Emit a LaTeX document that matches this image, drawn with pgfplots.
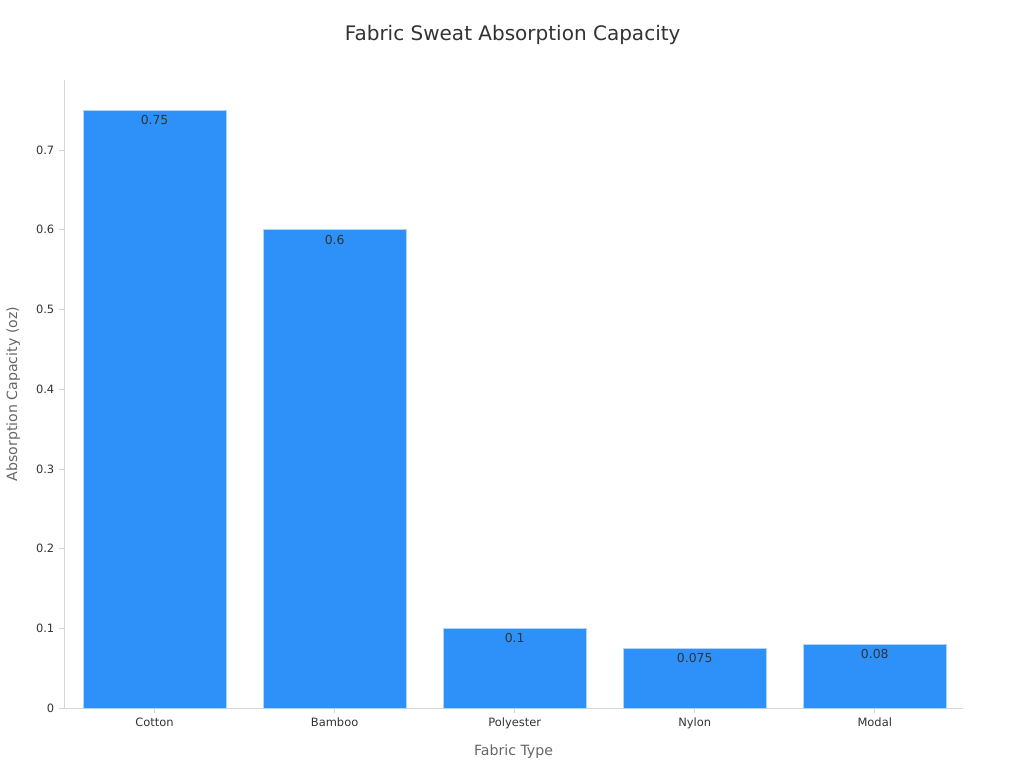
\documentclass[border=0pt]{standalone}
\usepackage{fontspec}
\setmainfont{DejaVu Sans}
\usepackage{pgfplots}
\usepackage{pgfplotstable}
\pgfplotsset{compat=1.18}
\definecolor{barblue}{RGB}{46,145,250}
\definecolor{baredge}{RGB}{175,212,252}
\definecolor{spine}{RGB}{214,214,214}
\definecolor{titlegray}{RGB}{51,51,51}
\definecolor{labelgray}{RGB}{102,102,102}

\pgfplotstableread{
x label  y     val
0 Cotton    0.75  0.75
1 Bamboo    0.6   0.6
2 Polyester 0.1   0.1
3 Nylon     0.075 0.075
4 Modal     0.08  0.08
}\fabric

\begin{document}
\begin{tikzpicture}
\path[use as bounding box] (0pt,0pt) rectangle (768pt,576pt);
\begin{axis}[
  at={(48pt,45pt)}, anchor=south west,
  scale only axis,
  width=674.25pt, height=471pt,
  ymin=0, ymax=0.788,
  xmin=-0.503, xmax=4.49,
  axis x line*=bottom, axis y line*=left,
  axis line style={spine, line width=0.6pt, -},
  ytick={0,0.1,...,0.7},
  yticklabels={0,0.1,0.2,0.3,0.4,0.5,0.6,0.7},
  xtick=data,
  xticklabels from table={\fabric}{label},
  tick style={spine, line width=0.6pt},
  tick align=outside,
  major tick length=3.75pt,
  /pgf/number format/assume math mode=true,
  ticklabel style={font=\fontsize{8.6}{10}\selectfont, text=titlegray},
  xticklabel style={text height=6.5pt, text depth=1.8pt, yshift=-0.3pt},
  xlabel={Fabric Type},
  ylabel={Absorption Capacity (oz)},
  label style={font=\fontsize{10.6}{12}\selectfont, text=labelgray},
  xlabel style={at={(axis description cs:0.5,0)}, anchor=center, yshift=-32.5pt},
  ylabel style={at={(axis description cs:0,0.5)}, anchor=center, yshift=38pt},
  ybar, bar width=107.25pt, bar shift=0pt,
  nodes near coords,
  point meta=explicit symbolic,
  nodes near coords align={below},
  every node near coord/.append style={font=\fontsize{9.3}{11}\selectfont, text=titlegray, inner sep=3.6pt},
  clip=false,
]
\addplot[fill=barblue, draw=baredge, line width=0.6pt]
  table[x=x, y=y, meta=val] {\fabric};
\end{axis}
\node[font=\fontsize{15}{17}\selectfont, text=titlegray] at (384.5pt,550pt) {Fabric Sweat Absorption Capacity};
\end{tikzpicture}
\end{document}
